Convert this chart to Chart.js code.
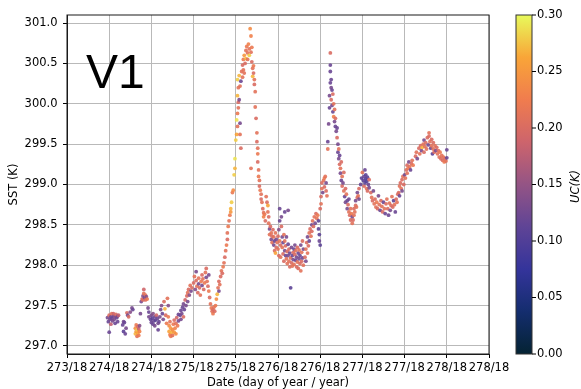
<!DOCTYPE html>
<html>
<head>
<meta charset="utf-8">
<script src="https://cdn.jsdelivr.net/npm/chart.js@4.4.1/dist/chart.umd.min.js"></script>
<style>
  html, body { margin: 0; padding: 0; background: #fff; }
  #wrap { width: 581px; height: 389px; }
</style>
</head>
<body>
<div id="wrap"><canvas id="chart" width="581" height="389"></canvas></div>
<script>
// tick positions
const xTicks = [273.5, 274, 274.5, 275, 275.5, 276, 276.5, 277, 277.5, 278, 278.5];
const yTicks = [297, 297.5, 298, 298.5, 299, 299.5, 300, 300.5, 301];
const ucTicks = [0, 0.05, 0.10, 0.15, 0.20, 0.25, 0.30];

const dayOfYear = [
  273.98, 273.99, 274.00, 274.00, 274.01, 274.02, 274.02, 274.03, 274.03, 274.04, 274.05, 274.05, 274.06, 274.07, 274.07, 274.08, 274.09, 274.10, 274.10, 274.11,
  274.16, 274.17, 274.17, 274.18, 274.19, 274.20, 274.21, 274.22, 274.23, 274.25, 274.27, 274.28,
  274.31, 274.31, 274.32, 274.32, 274.33, 274.33, 274.34, 274.34, 274.35, 274.35, 274.36, 274.36,
  274.37, 274.38, 274.39, 274.40, 274.40, 274.41, 274.41, 274.42, 274.43, 274.43, 274.44, 274.45, 274.46, 274.47, 274.47,
  274.49, 274.50, 274.50, 274.51, 274.52, 274.52, 274.53, 274.54, 274.54, 274.55, 274.56, 274.57, 274.58, 274.58, 274.59, 274.60,
  274.61, 274.62, 274.63, 274.64, 274.65, 274.66, 274.67, 274.68, 274.69, 274.70,
  274.70, 274.71, 274.71, 274.72, 274.72, 274.73, 274.73, 274.74, 274.75, 274.75, 274.76, 274.77, 274.77, 274.78, 274.79, 274.79, 274.80, 274.81, 274.82, 274.82,
  274.84, 274.85, 274.85, 274.86, 274.87, 274.88, 274.88, 274.89, 274.90, 274.91, 274.92, 274.93, 274.93, 274.94, 274.95, 274.96, 274.97, 274.98,
  275.00, 275.01, 275.02, 275.03, 275.03, 275.04, 275.05, 275.06, 275.06, 275.07, 275.08, 275.09, 275.10, 275.10, 275.11, 275.12, 275.13, 275.14, 275.15, 275.15, 275.16, 275.17, 275.18, 275.18,
  275.19, 275.20, 275.21, 275.22, 275.23, 275.23, 275.24, 275.25, 275.26, 275.27,
  275.28, 275.29, 275.30, 275.30, 275.31, 275.32, 275.33, 275.34, 275.35, 275.36,
  275.37, 275.38, 275.39, 275.40, 275.40, 275.41, 275.42, 275.43, 275.44, 275.44, 275.45, 275.46, 275.47, 275.48, 275.49, 275.49,
  275.50, 275.51, 275.51, 275.52, 275.52, 275.53, 275.53, 275.52, 275.52, 275.53, 275.54, 275.55, 275.54, 275.55, 275.55, 275.56, 275.56, 275.57, 275.58, 275.58,
  275.59, 275.59, 275.60, 275.60, 275.61, 275.62, 275.62, 275.63, 275.64, 275.64, 275.65, 275.66, 275.66, 275.67, 275.68, 275.68, 275.69, 275.69, 275.70, 275.70,
  275.71, 275.71, 275.72, 275.72, 275.73, 275.73, 275.74, 275.75, 275.75, 275.76, 275.76, 275.68, 275.76, 275.77, 275.77, 275.78, 275.78, 275.79, 275.80, 275.80,
  275.81, 275.82, 275.83, 275.83, 275.84, 275.85,
  275.86, 275.87, 275.88, 275.88, 275.89, 275.89, 275.90, 275.90, 275.91, 275.92, 275.92, 275.93, 275.93, 275.94, 275.95, 275.95,
  275.96, 275.96, 275.97, 275.97, 275.98, 275.98, 275.99, 276.00, 276.00, 276.01, 276.01, 276.02, 276.02, 276.03, 276.03, 276.04,
  276.05, 276.05, 276.06, 276.06, 276.07, 276.07, 276.08, 276.08, 276.09, 276.09, 276.10, 276.10, 276.11, 276.11, 276.12, 276.12, 276.13, 276.13, 276.14, 276.14,
  276.15, 276.15, 276.16, 276.16, 276.17, 276.17, 276.18, 276.18, 276.19, 276.19, 276.20, 276.20, 276.21, 276.21, 276.22, 276.22, 276.23, 276.23, 276.24, 276.24,
  276.25, 276.25, 276.26, 276.26, 276.27, 276.27, 276.28, 276.28, 276.29, 276.29, 276.30, 276.30, 276.02, 276.08, 276.12, 276.04,
  276.32, 276.33, 276.33, 276.34, 276.35, 276.35, 276.36, 276.37, 276.37, 276.38, 276.39, 276.40, 276.40, 276.41, 276.42, 276.43, 276.44, 276.45, 276.46, 276.47,
  276.48, 276.48, 276.49, 276.49, 276.50,
  276.51, 276.52, 276.52, 276.53, 276.54, 276.55, 276.55, 276.56, 276.57, 276.57, 276.58, 276.50, 276.51,
  276.59, 276.59, 276.60, 276.61, 276.61, 276.62, 276.62, 276.62, 276.62, 276.63, 276.63, 276.63, 276.64, 276.64, 276.65, 276.65, 276.66, 276.66, 276.67, 276.67,
  276.68, 276.68, 276.69, 276.70, 276.70, 276.71, 276.71, 276.72, 276.72, 276.73, 276.73, 276.74, 276.74, 276.75, 276.75, 276.76, 276.76, 276.77, 276.78, 276.78,
  276.79, 276.80, 276.80, 276.81, 276.82, 276.82, 276.83, 276.84, 276.84, 276.85, 276.86, 276.86, 276.87, 276.88, 276.88,
  276.89, 276.90, 276.90, 276.91, 276.92, 276.92, 276.93, 276.94, 276.94, 276.95, 276.96, 276.96,
  276.98, 276.99, 277.00, 277.01, 277.02, 277.02, 277.03, 277.03, 277.04, 277.04, 277.05, 277.05, 277.06, 277.06, 277.07, 277.08, 277.08,
  277.10, 277.11, 277.12, 277.13, 277.14, 277.15, 277.16, 277.17, 277.18, 277.19, 277.20, 277.21, 277.22, 277.23, 277.24, 277.25, 277.26,
  277.27, 277.28, 277.29, 277.30, 277.31, 277.32, 277.33, 277.34, 277.35, 277.36, 277.37, 277.38, 277.39, 277.40, 277.41, 277.42,
  277.43, 277.44, 277.44, 277.45, 277.46, 277.47, 277.47, 277.48, 277.49, 277.50, 277.51, 277.52, 277.53, 277.53, 277.54, 277.55, 277.56, 277.57, 277.58, 277.59, 277.60,
  277.63, 277.64, 277.65, 277.67, 277.68, 277.69, 277.70, 277.71, 277.72, 277.73, 277.73, 277.74, 277.75, 277.76, 277.77, 277.78, 277.79, 277.79, 277.80, 277.81,
  277.82, 277.82, 277.83, 277.84, 277.84, 277.85, 277.86, 277.87, 277.88, 277.89, 277.90, 277.91, 277.92, 277.93, 277.94, 277.95, 277.96, 277.97, 277.98, 277.99,
  278.00, 278.00
];
const sstK = [
  297.35, 297.30, 297.38, 297.17, 297.33, 297.36, 297.27, 297.40, 297.34, 297.31, 297.37, 297.40, 297.33, 297.36, 297.28, 297.39, 297.35, 297.37, 297.30, 297.38,
  297.26, 297.30, 297.18, 297.29, 297.15, 297.22, 297.41, 297.38, 297.36, 297.42, 297.47, 297.45,
  297.22, 297.15, 297.26, 297.18, 297.12, 297.20, 297.24, 297.16, 297.13, 297.21, 297.25, 297.18,
  297.40, 297.55, 297.58, 297.62, 297.57, 297.65, 297.70, 297.60, 297.63, 297.57, 297.61, 297.58, 297.47, 297.42, 297.36,
  297.33, 297.29, 297.38, 297.34, 297.27, 297.40, 297.31, 297.36, 297.25, 297.32, 297.38, 297.34, 297.28, 297.20, 297.30, 297.36,
  297.45, 297.50, 297.40, 297.33, 297.55, 297.46, 297.38, 297.28, 297.59, 297.50,
  297.36, 297.25, 297.18, 297.30, 297.14, 297.22, 297.12, 297.17, 297.20, 297.13, 297.27, 297.17, 297.32, 297.22, 297.15, 297.28, 297.35, 297.25, 297.31, 297.39,
  297.38, 297.33, 297.44, 297.40, 297.48, 297.36, 297.52, 297.45, 297.57, 297.50, 297.62, 297.66, 297.55, 297.70, 297.63, 297.75, 297.68, 297.72,
  297.78, 297.86, 297.70, 297.92, 297.81, 297.74, 297.66, 297.77, 297.84, 297.72, 297.63, 297.80, 297.88, 297.75, 297.83, 297.70, 297.78, 297.91, 297.85, 297.96, 297.80, 297.74, 297.68, 297.88,
  297.60, 297.52, 297.47, 297.43, 297.45, 297.40, 297.48, 297.43, 297.50, 297.58,
  297.64, 297.72, 297.68, 297.80, 297.76, 297.86, 297.93, 297.90, 297.98, 298.03,
  298.10, 298.18, 298.25, 298.32, 298.40, 298.48, 298.55, 298.62, 298.70, 298.66, 298.78, 298.90, 298.93, 299.12, 299.20, 299.32,
  299.55, 299.62, 299.80, 299.88, 299.72, 299.95, 300.02, 300.10, 300.30, 300.20, 300.05, 300.22, 300.35, 299.76, 299.62, 299.45, 300.28, 300.40, 300.33, 300.48,
  300.42, 300.55, 300.38, 300.60, 300.50, 300.66, 300.56, 300.71, 300.63, 300.55, 300.74, 300.68, 300.60, 300.93, 300.84, 300.64, 300.70, 300.52, 300.44, 300.34,
  300.47, 300.38, 300.30, 300.24, 300.15, 299.96, 299.82, 299.64, 299.53, 299.45, 299.38, 299.20, 299.28, 299.18, 299.10, 299.05, 298.98, 298.93, 298.88, 298.82,
  298.78, 298.70, 298.65, 298.60, 298.63, 298.55,
  298.85, 298.78, 298.74, 298.66, 298.60, 298.52, 298.45, 298.38, 298.48, 298.40, 298.32, 298.36, 298.28, 298.44, 298.25, 298.35,
  298.18, 298.30, 298.40, 298.15, 298.22, 298.32, 298.28, 298.36, 298.20, 298.12, 298.44, 298.30, 298.55, 298.25, 298.10, 298.60,
  298.35, 298.22, 298.14, 298.28, 298.38, 298.05, 298.18, 298.30, 298.12, 298.24, 298.08, 298.35, 298.17, 298.02, 298.26, 298.12, 298.05, 298.20, 297.98, 298.15,
  297.72, 298.09, 298.22, 298.03, 298.12, 297.99, 298.16, 298.07, 298.20, 298.01, 298.13, 298.25, 298.06, 298.18, 297.98, 298.10, 298.22, 298.04, 298.15, 297.96,
  298.08, 298.19, 298.02, 298.12, 297.93, 298.25, 298.05, 298.16, 298.09, 298.30, 298.00, 298.20, 298.70, 298.66, 298.68, 298.48,
  298.10, 298.20, 298.05, 298.28, 298.15, 298.35, 298.24, 298.40, 298.30, 298.45, 298.36, 298.50, 298.42, 298.55, 298.48, 298.60, 298.52, 298.64, 298.58, 298.62,
  298.55, 298.45, 298.38, 298.30, 298.25,
  298.85, 298.95, 299.02, 298.90, 299.05, 299.08, 298.97, 299.10, 299.02, 298.92, 298.86, 298.70, 298.76,
  299.44, 299.53, 299.75, 299.95, 300.10, 300.26, 300.40, 300.48, 300.63, 300.20, 300.30, 300.05, 300.17, 299.98, 300.12, 299.90, 300.00, 299.84, 299.93, 299.78,
  299.72, 299.82, 299.66, 299.70, 299.58, 299.50, 299.40, 299.44, 299.32, 299.25, 299.36, 299.20, 299.14, 299.28, 299.05, 299.10, 298.98, 299.02, 298.92, 299.15,
  298.85, 298.95, 298.78, 298.88, 298.80, 298.70, 298.75, 298.66, 298.82, 298.62, 298.70, 298.56, 298.64, 298.52, 298.60,
  298.56, 298.62, 298.70, 298.66, 298.74, 298.80, 298.72, 298.84, 298.90, 298.86, 298.95, 298.82,
  299.00, 299.08, 299.15, 299.05, 299.10, 298.98, 299.18, 299.02, 299.07, 299.12, 298.95, 299.04, 299.09, 298.92, 299.00, 298.96, 299.06,
  298.90, 298.84, 298.80, 298.92, 298.76, 298.82, 298.72, 298.78, 298.70, 298.86, 298.75, 298.68, 298.80, 298.73, 298.66, 298.78, 298.70,
  298.64, 298.76, 298.82, 298.70, 298.62, 298.77, 298.68, 298.74, 298.85, 298.72, 298.80, 298.75, 298.66, 298.82, 298.78, 298.88,
  298.90, 298.98, 298.86, 299.02, 298.95, 299.06, 298.92, 299.10, 299.00, 299.12, 299.08, 299.18, 299.14, 299.24, 299.20, 299.28, 299.22, 299.18, 299.26, 299.30, 299.24,
  299.35, 299.40, 299.32, 299.45, 299.38, 299.48, 299.42, 299.46, 299.50, 299.40, 299.55, 299.47, 299.52, 299.44, 299.58, 299.49, 299.64, 299.60, 299.53, 299.45,
  299.56, 299.48, 299.38, 299.52, 299.44, 299.40, 299.48, 299.42, 299.46, 299.38, 299.42, 299.34, 299.40, 299.32, 299.36, 299.30, 299.34, 299.28, 299.32, 299.29,
  299.33, 299.43
];
const ucK = [
  .13, .12, .20, .12, .13, .12, .18, .21, .12, .13, .12, .19, .13, .14, .12, .20, .12, .13, .12, .18,
  .12, .13, .11, .12, .12, .13, .20, .13, .20, .14, .13, .12,
  .24, .27, .22, .25, .21, .28, .20, .26, .22, .18, .14, .23,
  .13, .13, .20, .14, .20, .21, .19, .13, .21, .20, .14, .22, .13, .12, .13,
  .12, .12, .13, .11, .12, .14, .12, .12, .13, .11, .19, .12, .13, .12, .12, .13,
  .13, .14, .12, .13, .20, .27, .20, .22, .21, .14,
  .22, .24, .26, .21, .23, .25, .22, .27, .24, .21, .22, .25, .20, .23, .24, .21, .19, .22, .13, .12,
  .12, .13, .12, .13, .12, .20, .13, .12, .19, .13, .20, .21, .13, .20, .14, .21, .13, .20,
  .20, .21, .14, .13, .20, .21, .20, .13, .21, .20, .21, .22, .20, .13, .21, .20, .22, .21, .13, .20, .21, .20, .22, .13,
  .20, .21, .22, .21, .20, .22, .21, .20, .22, .24,
  .27, .21, .13, .20, .21, .20, .21, .20, .22, .21,
  .20, .21, .22, .20, .21, .22, .21, .22, .27, .25, .28, .22, .24, .28, .27, .29,
  .28, .26, .29, .22, .21, .21, .20, .27, .28, .21, .13, .21, .27, .13, .21, .20, .12, .21, .21, .20,
  .21, .22, .21, .25, .20, .21, .27, .22, .21, .21, .23, .21, .28, .24, .23, .21, .22, .20, .21, .27,
  .22, .20, .21, .20, .21, .21, .20, .21, .20, .21, .22, .21, .20, .21, .22, .21, .20, .22, .21, .20,
  .21, .20, .21, .23, .22, .20,
  .21, .20, .26, .21, .20, .21, .13, .21, .20, .21, .13, .20, .21, .20, .13, .21,
  .20, .12, .21, .26, .20, .13, .21, .20, .21, .20, .14, .21, .12, .20, .21, .13,
  .13, .21, .20, .12, .21, .20, .13, .21, .12, .20, .21, .13, .20, .21, .12, .13, .21, .20, .20, .12,
  .11, .21, .13, .20, .12, .21, .20, .13, .12, .21, .20, .13, .12, .21, .20, .13, .20, .21, .12, .20,
  .13, .21, .20, .12, .21, .13, .20, .21, .12, .20, .21, .13, .12, .12, .13, .20,
  .20, .21, .13, .20, .21, .13, .20, .21, .12, .20, .21, .13, .20, .21, .20, .21, .13, .20, .21, .22,
  .11, .11, .11, .12, .11,
  .20, .21, .20, .13, .21, .22, .20, .21, .13, .20, .21, .20, .21,
  .21, .12, .13, .12, .13, .12, .12, .12, .20, .13, .12, .20, .12, .13, .20, .12, .21, .23, .21, .13,
  .12, .20, .13, .12, .20, .13, .12, .21, .13, .20, .12, .21, .13, .20, .12, .21, .20, .13, .21, .20,
  .12, .20, .13, .21, .12, .13, .20, .21, .12, .20, .21, .20, .22, .21, .13,
  .20, .21, .20, .21, .20, .13, .21, .20, .13, .21, .20, .13,
  .12, .11, .21, .11, .12, .20, .12, .11, .10, .11, .21, .10, .11, .20, .12, .13, .20,
  .20, .21, .20, .13, .21, .20, .21, .22, .20, .13, .21, .12, .20, .21, .20, .12, .21,
  .12, .20, .21, .20, .12, .21, .13, .20, .21, .20, .11, .21, .12, .20, .21, .20,
  .20, .21, .12, .20, .21, .20, .13, .21, .20, .13, .21, .20, .21, .20, .22, .13, .21, .12, .20, .21, .22,
  .20, .21, .13, .20, .21, .20, .13, .27, .21, .20, .13, .21, .20, .21, .20, .13, .21, .20, .21, .12,
  .20, .21, .11, .20, .21, .20, .21, .13, .20, .21, .20, .21, .22, .20, .21, .20, .21, .22, .20, .21,
  .12, .12
];
const ucMax = 0.30;

// cmocean "thermal"-like colour map, stops as [position, r, g, b]
const thermalStops = [
  [0.000, 4, 35, 51],
  [0.125, 20, 45, 110],
  [0.250, 52, 52, 155],
  [0.375, 95, 68, 150],
  [0.500, 148, 84, 133],
  [0.625, 205, 100, 108],
  [0.750, 240, 124, 78],
  [0.875, 249, 165, 56],
  [1.000, 232, 250, 91]
];

function thermal(t, alpha) {
  t = Math.max(0, Math.min(1, t));
  for (var i = 1; i < thermalStops.length; i++) {
    const a = thermalStops[i - 1], b = thermalStops[i];
    if (t <= b[0]) {
      const f = (t - a[0]) / (b[0] - a[0]);
      const r = Math.round(a[1] + (b[1] - a[1]) * f);
      const g = Math.round(a[2] + (b[2] - a[2]) * f);
      const bl = Math.round(a[3] + (b[3] - a[3]) * f);
      return 'rgba(' + r + ', ' + g + ', ' + bl + ', ' + alpha + ')';
    }
  }
}

if (dayOfYear.length !== sstK.length || sstK.length !== ucK.length)
  console.error('length mismatch', dayOfYear.length, sstK.length, ucK.length);

const tickFont = { family: 'DejaVu Sans', size: 11.5 };

// frame, colour bar and panel label
const extras = {
  id: 'extras',
  afterDraw(chart) {
    const ctx = chart.ctx;
    const area = chart.chartArea;
    ctx.save();

    ctx.strokeStyle = '#1a1a1a';
    ctx.lineWidth = 1;
    ctx.strokeRect(area.left, area.top, area.right - area.left, area.bottom - area.top);

    // colour bar
    const cbLeft = 516, cbWidth = 16;
    const top = area.top, bottom = area.bottom;
    const grad = ctx.createLinearGradient(0, bottom, 0, top);
    thermalStops.forEach(s => grad.addColorStop(s[0], thermal(s[0], 1)));
    ctx.fillStyle = grad;
    ctx.fillRect(cbLeft, top, cbWidth, bottom - top);
    ctx.strokeStyle = '#333';
    ctx.strokeRect(cbLeft, top, cbWidth, bottom - top);

    ctx.fillStyle = '#000';
    ctx.strokeStyle = '#000';
    ctx.font = '11.5px "DejaVu Sans"';
    ctx.textAlign = 'left';
    ctx.textBaseline = 'middle';
    ucTicks.forEach(v => {
      const y = bottom - (v / ucMax) * (bottom - top);
      ctx.beginPath();
      ctx.moveTo(cbLeft + cbWidth, y);
      ctx.lineTo(cbLeft + cbWidth + 4, y);
      ctx.stroke();
      ctx.fillText(v.toFixed(2), cbLeft + cbWidth + 5, y);
    });

    ctx.save();
    ctx.translate(576, (top + bottom) / 2 + 2);
    ctx.rotate(-Math.PI / 2);
    ctx.textAlign = 'center';
    ctx.font = 'italic 11.5px "DejaVu Sans"';
    ctx.fillText('UC(K)', 0, 0);
    ctx.restore();

    // panel label
    ctx.font = '48px "Liberation Sans"';
    ctx.textAlign = 'left';
    ctx.textBaseline = 'alphabetic';
    ctx.fillText('V1', 86, 88);

    ctx.restore();
  }
};

new Chart(document.getElementById('chart'), {
  type: 'scatter',
  data: {
    datasets: [{
      data: dayOfYear.map((d, i) => ({ x: d, y: sstK[i] })),
      pointBackgroundColor: ucK.map(v => thermal(v / ucMax, 0.9)),
      pointBorderWidth: 0,
      pointRadius: 1.9,
      pointHoverRadius: 1.9
    }]
  },
  options: {
    responsive: false,
    animation: false,
    devicePixelRatio: 1,
    layout: { padding: { top: 15, right: 92, left: 0, bottom: 0 } },
    plugins: { legend: { display: false }, tooltip: { enabled: false } },
    scales: {
      x: {
        type: 'linear',
        min: 273.5,
        max: 278.5,
        afterBuildTicks: s => { s.ticks = xTicks.map(v => ({ value: v })); },
        afterFit: s => { s.height = 35; },
        grid: { color: '#b9b9b9', lineWidth: 1, tickColor: '#000', tickLength: 4 },
        border: { color: '#1a1a1a', width: 1 },
        ticks: {
          font: tickFont, color: '#000', padding: 3, maxRotation: 0, autoSkip: false,
          callback: v => Math.floor(v) + '/18'
        },
        title: {
          display: true, text: 'Date (day of year / year)', color: '#000',
          font: { family: 'DejaVu Sans', size: 11.5, lineHeight: 1 }, padding: { top: 0, bottom: 0.5 }
        }
      },
      y: {
        type: 'linear',
        min: 296.9,
        max: 301.1,
        afterBuildTicks: s => { s.ticks = yTicks.map(v => ({ value: v })); },
        afterFit: s => { s.width = 67; },
        grid: { color: '#b9b9b9', lineWidth: 1, tickColor: '#000', tickLength: 4 },
        border: { color: '#1a1a1a', width: 1 },
        ticks: {
          font: tickFont, color: '#000', padding: 5.5,
          callback: v => v.toFixed(1)
        },
        title: {
          display: true, text: 'SST (K)', color: '#000',
          font: { family: 'DejaVu Sans', size: 11.5 }, padding: { top: 7, bottom: 0 }
        }
      }
    }
  },
  plugins: [extras]
});
</script>
</body>
</html>
